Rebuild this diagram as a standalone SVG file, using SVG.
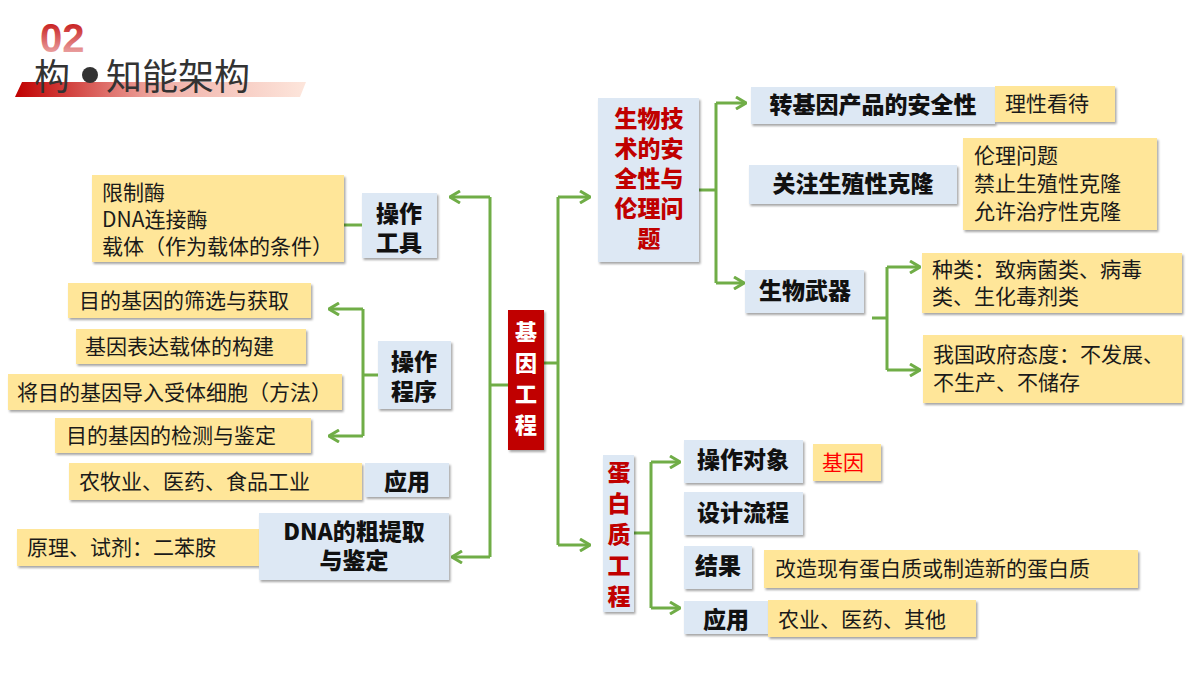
<svg xmlns="http://www.w3.org/2000/svg" width="1200" height="675" viewBox="0 0 1200 675">
<defs>
<linearGradient id="band" x1="0" x2="1" y1="0" y2="0"><stop offset="0" stop-color="#c00000"/><stop offset="0.5" stop-color="#f0b0a8"/><stop offset="1" stop-color="#fde6dc"/></linearGradient>
<linearGradient id="num" x1="0" x2="0" y1="0" y2="1"><stop offset="0" stop-color="#c00000"/><stop offset="1" stop-color="#f2c0c0"/></linearGradient>
<filter id="sh" x="-10%" y="-10%" width="125%" height="130%"><feDropShadow dx="1.5" dy="2" stdDeviation="1.2" flood-color="#000" flood-opacity="0.35"/></filter>
<marker id="ar" viewBox="0 0 12 14" refX="11" refY="7" markerWidth="12" markerHeight="14" markerUnits="userSpaceOnUse" orient="auto"><path d="M1,1 L11,7 L1,13" fill="none" stroke="#70ad47" stroke-width="3"/></marker>
</defs>
<style>
.b{fill:#dde8f4;filter:url(#sh)}
.y{fill:#ffe699;filter:url(#sh)}
.t{font-family:"Noto Sans CJK SC","Liberation Sans",sans-serif;font-size:21px;fill:#1a1a1a}
.bt{font-family:"Noto Sans CJK SC","Liberation Sans",sans-serif;font-size:23px;font-weight:900;fill:#111}
.rt{font-family:"Noto Sans CJK SC",sans-serif;font-size:23px;font-weight:900;fill:#c00000}
.c{fill:none;stroke:#70ad47;stroke-width:3}
</style>
<rect width="1200" height="675" fill="#fff"/>
<g id="header">
<polygon points="22,82 306,82 300,97 15,97" fill="url(#band)"/>
<text x="40" y="52" font-family="Liberation Sans,sans-serif" font-size="40" font-weight="bold" fill="url(#num)">02</text>
<text x="34" y="90" font-family="Noto Sans CJK SC,sans-serif" font-size="36" fill="#333">构</text>
<circle cx="90" cy="75" r="8" fill="#333"/>
<text x="106" y="90" font-family="Noto Sans CJK SC,sans-serif" font-size="36" fill="#333">知能架构</text>
</g>
<g id="connectors">
<path class="c" d="M508,385 H490"/>
<path class="c" d="M490,197 V557"/>
<path class="c" d="M490,197 H450" marker-end="url(#ar)"/>
<path class="c" d="M490,557 H452" marker-end="url(#ar)"/>
<path class="c" d="M544,363 H558"/>
<path class="c" d="M558,197 V545"/>
<path class="c" d="M558,197 H590" marker-end="url(#ar)"/>
<path class="c" d="M558,545 H590" marker-end="url(#ar)"/>
<path class="c" d="M344,225 H362"/>
<path class="c" d="M378,375 H363 M363,309 V436"/>
<path class="c" d="M363,309 H329" marker-end="url(#ar)"/>
<path class="c" d="M363,436 H329" marker-end="url(#ar)"/>
<path class="c" d="M699,190 H716 M716,103 V283"/>
<path class="c" d="M716,103 H746" marker-end="url(#ar)"/>
<path class="c" d="M716,283 H744" marker-end="url(#ar)"/>
<path class="c" d="M872,318 H887 M887,267 V370"/>
<path class="c" d="M887,267 H920" marker-end="url(#ar)"/>
<path class="c" d="M887,370 H920" marker-end="url(#ar)"/>
<path class="c" d="M634,533 H651 M651,462 V608"/>
<path class="c" d="M651,462 H680" marker-end="url(#ar)"/>
<path class="c" d="M651,608 H680" marker-end="url(#ar)"/>
</g>
<g id="center"><rect x="508" y="310" width="36" height="140" fill="#c00000" filter="url(#sh)"/>
<text font-family="Noto Sans CJK SC,sans-serif" font-size="22" font-weight="900" fill="#fff" text-anchor="middle"><tspan x="526" y="340">基</tspan><tspan x="526" y="371">因</tspan><tspan x="526" y="402">工</tspan><tspan x="526" y="433">程</tspan></text></g>
<g id="tools"><rect class="y" x="92" y="175" width="252" height="87"/>
<text class="t"><tspan x="102" y="200">限制酶</tspan><tspan x="102" y="227">DNA连接酶</tspan><tspan x="102" y="254">载体（作为载体的条件）</tspan></text>
<rect class="b" x="362" y="193" width="75" height="65"/>
<text class="bt" text-anchor="middle"><tspan x="399" y="222">操作</tspan><tspan x="399" y="251">工具</tspan></text></g>
<g id="proc"><rect class="b" x="378" y="341" width="73" height="68"/>
<text class="bt" text-anchor="middle"><tspan x="414" y="370">操作</tspan><tspan x="414" y="400">程序</tspan></text>
<rect class="y" x="68" y="283" width="243" height="35"/><text class="t" x="79" y="308">目的基因的筛选与获取</text>
<rect class="y" x="76" y="329" width="230" height="35"/><text class="t" x="85" y="354">基因表达载体的构建</text>
<rect class="y" x="8" y="374" width="334" height="36"/><text class="t" x="17" y="400">将目的基因导入受体细胞（方法）</text>
<rect class="y" x="55" y="418" width="256" height="35"/><text class="t" x="66" y="443">目的基因的检测与鉴定</text></g>
<g id="app1"><rect class="y" x="69" y="463" width="293" height="37"/><text class="t" x="79" y="489">农牧业、医药、食品工业</text>
<rect class="b" x="365" y="463" width="84" height="34"/><text class="bt" x="407" y="490" text-anchor="middle">应用</text></g>
<g id="dna"><rect class="y" x="17" y="529" width="242" height="37"/><text class="t" x="27" y="555">原理、试剂：二苯胺</text>
<rect class="b" x="259" y="513" width="190" height="67"/>
<text class="bt" text-anchor="middle"><tspan x="354" y="540">DNA的粗提取</tspan><tspan x="354" y="569">与鉴定</tspan></text></g>
<g id="ethics"><rect class="b" x="598" y="98" width="101" height="164"/>
<text class="rt" text-anchor="middle"><tspan x="649" y="127">生物技</tspan><tspan x="649" y="157">术的安</tspan><tspan x="649" y="187">全性与</tspan><tspan x="649" y="217">伦理问</tspan><tspan x="649" y="247">题</tspan></text></g>
<g id="gmo"><rect class="b" x="751" y="87" width="244" height="37"/><text class="bt" x="873" y="113" text-anchor="middle">转基因产品的安全性</text>
<rect class="y" x="995" y="86" width="120" height="36"/><text class="t" x="1005" y="111">理性看待</text></g>
<g id="clone"><rect class="b" x="749" y="165" width="208" height="39"/><text class="bt" x="853" y="192" text-anchor="middle">关注生殖性克隆</text>
<rect class="y" x="963" y="138" width="194" height="92"/>
<text class="t"><tspan x="974" y="163">伦理问题</tspan><tspan x="974" y="191">禁止生殖性克隆</tspan><tspan x="974" y="219">允许治疗性克隆</tspan></text></g>
<g id="weapon"><rect class="b" x="745" y="270" width="119" height="43"/><text class="bt" x="805" y="299" text-anchor="middle">生物武器</text>
<rect class="y" x="922" y="253" width="260" height="60"/>
<text class="t"><tspan x="932" y="277">种类：致病菌类、病毒</tspan><tspan x="932" y="304">类、生化毒剂类</tspan></text>
<rect class="y" x="923" y="335" width="259" height="68"/>
<text class="t"><tspan x="933" y="362">我国政府态度：不发展、</tspan><tspan x="933" y="390">不生产、不储存</tspan></text></g>
<g id="protein"><rect class="b" x="603" y="455" width="31" height="157"/>
<text class="rt" font-size="22" text-anchor="middle"><tspan x="619" y="481">蛋</tspan><tspan x="619" y="512">白</tspan><tspan x="619" y="543">质</tspan><tspan x="619" y="574">工</tspan><tspan x="619" y="605">程</tspan></text></g>
<g id="target"><rect class="b" x="684" y="440" width="119" height="43"/><text class="bt" x="743" y="468" text-anchor="middle">操作对象</text>
<rect class="y" x="813" y="444" width="68" height="37"/><text class="t" x="822" y="470" style="fill:#ff0000">基因</text></g>
<g id="design"><rect class="b" x="684" y="492" width="119" height="43"/><text class="bt" x="743" y="521" text-anchor="middle">设计流程</text></g>
<g id="result"><rect class="b" x="684" y="546" width="68" height="43"/><text class="bt" x="718" y="574" text-anchor="middle">结果</text>
<rect class="y" x="764" y="550" width="374" height="38"/><text class="t" x="775" y="576">改造现有蛋白质或制造新的蛋白质</text></g>
<g id="app2"><rect class="b" x="684" y="601" width="84" height="33"/><text class="bt" x="726" y="628" text-anchor="middle">应用</text>
<rect class="y" x="768" y="600" width="208" height="37"/><text class="t" x="778" y="627">农业、医药、其他</text></g>
</svg>
